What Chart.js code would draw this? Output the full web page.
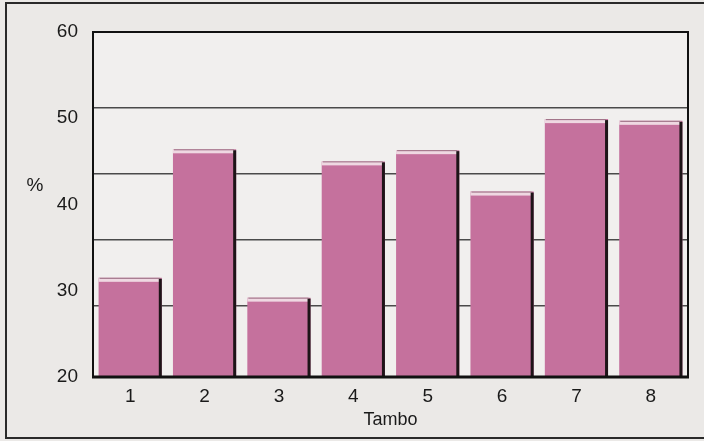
<!DOCTYPE html>
<html>
<head>
<meta charset="utf-8">
<script src="https://cdn.jsdelivr.net/npm/chart.js@4/dist/chart.umd.min.js"></script>
<style>
  html,body{margin:0;padding:0;background:#ebe9e7;overflow:hidden}
  #wrap{width:704px;height:441px;position:relative}
</style>
</head>
<body>
<div id="wrap"><canvas id="grafico" width="704" height="441"></canvas></div>
<script>
// ====== Datos ======
const tambos     = ['1','2','3','4','5','6','7','8'];
const porcentaje = [31.5, 46.4, 29.2, 45.0, 46.3, 41.5, 49.9, 49.7];
const yTicks     = [20, 30, 40, 50, 60];
const ejeX = 'Tambo', ejeY = '%';

const rosa = '#c5719d';
const FONT = 'Arial, "Liberation Sans", sans-serif';
const TXT  = '#1a1a1a';

// ====== Plugins de dibujo ======
// marco exterior + fondo del área de trazado
const fondo = {
  id:'fondo',
  beforeDraw(c){
    const {ctx, chartArea:a} = c;
    ctx.save();
    ctx.fillStyle = '#ebe9e7'; ctx.fillRect(0,0,c.width,c.height);
    ctx.strokeStyle = '#2a2a2a'; ctx.lineWidth = 2;
    ctx.strokeRect(6,3,c.width+20,435);
    ctx.fillStyle = '#f1efee'; ctx.fillRect(a.left,a.top,a.right-a.left,a.bottom-a.top);
    ctx.restore();
  }
};

// efecto 3D de las barras (cara superior clara, lado derecho oscuro) y bordes del área
const barras3d = {
  id:'barras3d',
  afterDatasetsDraw(c){
    const {ctx, chartArea:a} = c;
    ctx.save();
    c.getDatasetMeta(0).data.forEach(b=>{
      const {x,y,width} = b.getProps(['x','y','width'], true);
      const l = x-width/2, r = x+width/2, fin = a.bottom;
      ctx.fillStyle = '#efd8e2'; ctx.fillRect(l, y, width-2, 4);
      ctx.fillStyle = '#9a6a80'; ctx.fillRect(l+1, y, width-3, 1);
      ctx.fillStyle = '#1e1418'; ctx.fillRect(r-3, y+1, 3, fin-y-1);
    });
    ctx.strokeStyle = '#111';
    ctx.lineWidth = 2; ctx.beginPath();
    ctx.moveTo(a.left, a.bottom); ctx.lineTo(a.left, a.top); ctx.lineTo(a.right, a.top); ctx.lineTo(a.right, a.bottom);
    ctx.stroke();
    ctx.lineWidth = 3; ctx.beginPath();
    ctx.moveTo(a.left-1, a.bottom); ctx.lineTo(a.right+1, a.bottom); ctx.stroke();
    // título del eje Y, horizontal
    ctx.fillStyle = TXT; ctx.font = '19px '+FONT;
    ctx.textAlign = 'center'; ctx.textBaseline = 'middle';
    ctx.fillText(ejeY, 35, 186);
    ctx.restore();
  }
};

// ====== Gráfico ======
new Chart(document.getElementById('grafico'), {
  type:'bar',
  data:{ labels:tambos, datasets:[{ data:porcentaje, backgroundColor:rosa, borderWidth:0,
    categoryPercentage:1, barPercentage:0.85 }]},
  options:{
    responsive:false, animation:false, devicePixelRatio:1,
    layout:{ padding:{ top:32, right:16, left:0, bottom:0 } },
    plugins:{ legend:{display:false}, tooltip:{enabled:false} },
    scales:{
      x:{
        grid:{ display:false, drawTicks:false }, border:{ display:false },
        ticks:{ color:TXT, font:{ size:19, family:FONT }, padding:8 },
        title:{ display:true, text:ejeX, color:TXT, font:{ size:18, family:FONT }, padding:{ top:0, bottom:10 } },
        afterFit(s){ s.height = 64; }
      },
      y:{
        min:yTicks[0], max:yTicks[yTicks.length-1],
        afterBuildTicks(s){ s.ticks = yTicks.map(v=>({value:v})); },
        grid:{ display:false, drawTicks:false }, border:{ display:false },
        ticks:{ color:TXT, font:{ size:19, family:FONT }, padding:15 },
        afterFit(s){ s.width = 93; }
      },
      // líneas de la pared del fondo
      fondoY:{
        position:'right', min:-0.076, max:5.151,
        ticks:{ display:false, stepSize:1 },
        grid:{ drawTicks:false, lineWidth:1.5,
          color: ctx=> (ctx.tick && ctx.tick.value>=1 && ctx.tick.value<=4) ? '#4a4a4a' : 'rgba(0,0,0,0)' },
        border:{ display:false },
        afterFit(s){ s.width = 0; }
      }
    }
  },
  plugins:[fondo, barras3d]
});
</script>
</body>
</html>
